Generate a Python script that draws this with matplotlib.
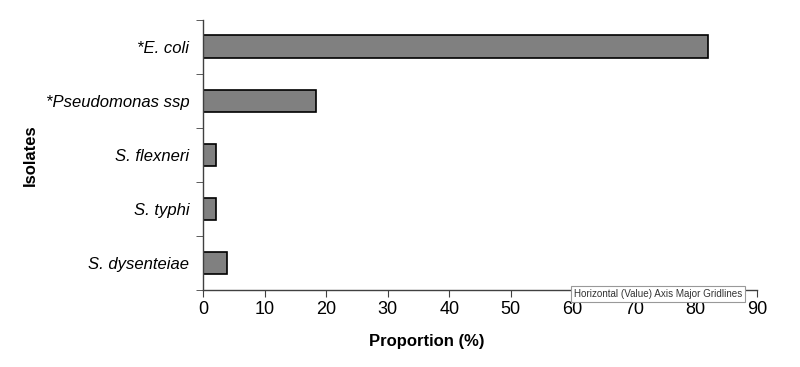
import numpy as np
import matplotlib.pyplot as plt

plt.rcParams['font.family'] = ['Liberation Sans', 'DejaVu Sans']

isolates = ['*E. coli', '*Pseudomonas ssp', 'S. flexneri', 'S. typhi', 'S. dysenteiae']
proportion = [82.0, 18.4, 2.0, 2.0, 3.9]
x_ticks = [0, 10, 20, 30, 40, 50, 60, 70, 80, 90]

fig = plt.figure(figsize=(8, 3.67), dpi=100)
ax = fig.add_axes([0.254, 0.21, 0.692, 0.736])

y = np.arange(len(isolates))
ax.barh(y, proportion, height=0.42, color='#808080', edgecolor='black', linewidth=1.2)

ax.set_ylim(len(isolates) - 0.5, -0.5)
ax.set_xlim(0, 90)

ax.set_yticks(y)
ax.set_yticklabels(isolates, fontstyle='italic', fontsize=12)
ax.tick_params(axis='y', which='major', length=0, pad=10)
ax.set_yticks(np.arange(-0.5, len(isolates)), minor=True)
ax.tick_params(axis='y', which='minor', length=5, direction='out', color='#404040')

ax.set_xticks(x_ticks)
ax.tick_params(axis='x', labelsize=13, length=5, direction='out', color='#404040', pad=3)

for side in ['top', 'right']:
    ax.spines[side].set_visible(False)
for side in ['left', 'bottom']:
    ax.spines[side].set_color('#404040')
    ax.spines[side].set_linewidth(1.0)

ax.set_xlabel('Proportion (%)', fontsize=12, fontweight='bold')
ax.xaxis.set_label_coords(0.404, -0.165)
ax.set_ylabel('Isolates', fontsize=12, fontweight='bold')
ax.yaxis.set_label_coords(-0.298, 0.5)

# screenshot tooltip
fig.text(0.7175, 0.2, 'Horizontal (Value) Axis Major Gridlines', fontsize=7.1,
         color='#333333', va='center', ha='left',
         bbox=dict(boxstyle='square,pad=0.3', facecolor='white', edgecolor='#999999', linewidth=0.8))

fig.savefig('out.png', dpi=100)
